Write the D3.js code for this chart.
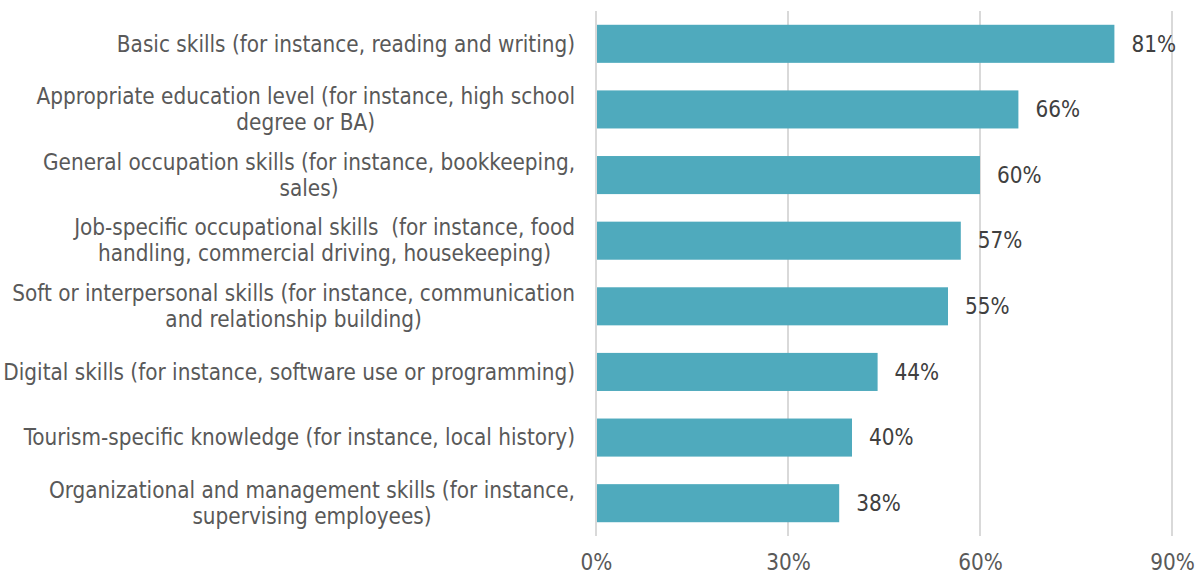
<!DOCTYPE html>
<html>
<head>
<meta charset="utf-8">
<script src="https://cdn.jsdelivr.net/npm/d3@7"></script>
<style>
  html, body { margin: 0; padding: 0; background: #fff; }
  svg text { font-family: "DejaVu Sans Condensed", "Liberation Sans Narrow", Roboto, sans-serif; white-space: pre; }
</style>
</head>
<body>
<svg id="chart" width="1202" height="576"></svg>
<script>
// Category labels, one entry per line of the wrapped label
const categories = [
  ["Basic skills (for instance, reading and writing)"],
  ["Appropriate education level (for instance, high school", "degree or BA)"],
  ["General occupation skills (for instance, bookkeeping,", "sales)"],
  ["Job-specific occupational skills  (for instance, food", "handling, commercial driving, housekeeping)"],
  ["Soft or interpersonal skills (for instance, communication", "and relationship building)"],
  ["Digital skills (for instance, software use or programming)"],
  ["Tourism-specific knowledge (for instance, local history)"],
  ["Organizational and management skills (for instance,", "supervising employees)"]
];
const values = [81, 66, 60, 57, 55, 44, 40, 38];
const tickValues = [0, 30, 60, 90];
const tickLabels = ["0%", "30%", "60%", "90%"];

const svg = d3.select("#chart");
const margin = { left: 596, right: 30, top: 11, bottom: 40 };
const W = 1202, H = 576;
const fontSize = 22.3;

const x = d3.scaleLinear().domain([0, 90]).range([margin.left, margin.left + 576]);
const y = d3.scaleBand()
  .domain(d3.range(values.length))
  .range([margin.top, H - margin.bottom])
  .paddingInner(0.42)
  .paddingOuter(0.21);

// vertical gridlines
svg.append("g").selectAll("line")
  .data(tickValues)
  .join("line")
  .attr("x1", d => x(d)).attr("x2", d => x(d))
  .attr("y1", margin.top).attr("y2", H - margin.bottom)
  .attr("stroke", "#d9d9d9").attr("stroke-width", 2);

// bars
svg.append("g").selectAll("rect")
  .data(values)
  .join("rect")
  .attr("x", x(0) + 1)
  .attr("y", (d, i) => y(i))
  .attr("width", d => x(d) - x(0) - 1)
  .attr("height", y.bandwidth())
  .attr("fill", "#4faabd");

// value labels
svg.append("g").selectAll("text")
  .data(values)
  .join("text")
  .attr("x", d => x(d) + 17)
  .attr("y", (d, i) => y(i) + y.bandwidth() / 2)
  .attr("dy", "0.35em")
  .attr("font-size", fontSize)
  .attr("fill", "#404040")
  .text(d => d + "%");

// x axis tick labels
const xAxis = d3.axisBottom(x)
  .tickValues(tickValues)
  .tickFormat((d, i) => tickLabels[i])
  .tickSize(0)
  .tickPadding(0);
const ax = svg.append("g")
  .attr("transform", `translate(0,${H - margin.bottom})`)
  .call(xAxis);
ax.select(".domain").remove();
ax.selectAll("text")
  .attr("y", 26)
  .attr("dy", "0.35em")
  .attr("font-size", fontSize)
  .attr("fill", "#595959")
  .style("font-family", null);

// category labels: block right-aligned, lines centred within the block
const labelRight = 575;
const lineH = 26;
const catG = svg.append("g");
categories.forEach((lines, i) => {
  const g = catG.append("g");
  const cy = y(i) + y.bandwidth() / 2;
  const texts = lines.map((line, j) =>
    g.append("text")
      .attr("font-size", fontSize)
      .attr("fill", "#595959")
      .attr("text-anchor", "middle")
      .attr("y", cy + (j - (lines.length - 1) / 2) * lineH)
      .attr("dy", "0.35em")
      .text(line)
  );
  const maxW = d3.max(texts, t => t.node().getComputedTextLength());
  texts.forEach(t => t.attr("x", labelRight - maxW / 2));
});
</script>
</body>
</html>
